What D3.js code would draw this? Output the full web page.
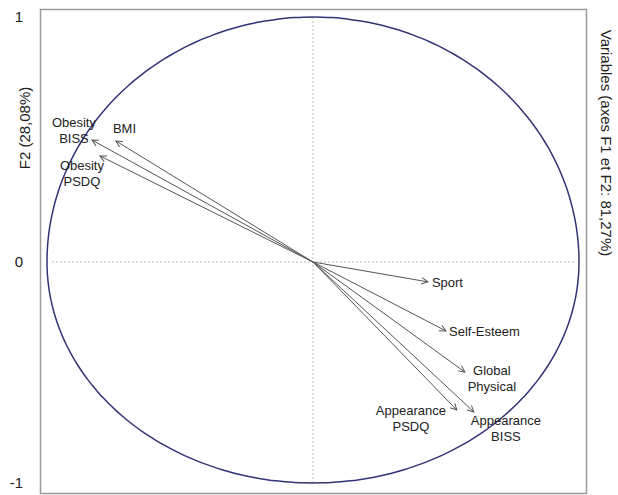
<!DOCTYPE html>
<html>
<head>
<meta charset="utf-8">
<script src="https://cdn.jsdelivr.net/npm/d3@7"></script>
<style>
  body { margin: 0; background: #fff; }
  text { font-family: "Liberation Sans", Arial, sans-serif; fill: #222; }
</style>
</head>
<body>
<div id="chart"></div>
<script>
// variable loadings on F1 / F2
var variables = ["Obesity BISS", "BMI", "Obesity PSDQ", "Sport", "Self-Esteem", "Global Physical", "Appearance PSDQ", "Appearance BISS"];
var f1 = [-0.831, -0.741, -0.801, 0.432, 0.500, 0.571, 0.541, 0.605];
var f2 = [0.498, 0.494, 0.433, -0.090, -0.312, -0.498, -0.670, -0.679];
var labelLines = [["Obesity", "BISS"], ["BMI"], ["Obesity", "PSDQ"], ["Sport"], ["Self-Esteem"], ["Global", "Physical"], ["Appearance", "PSDQ"], ["Appearance", "BISS"]];
var yTicks = [1, 0, -1];

// label placement relative to arrow tip (layout only)
var labelPos = [
  {dx: -18, dy: -13, anchor: "middle"},
  {dx: -3, dy: -8, anchor: "start"},
  {dx: -18, dy: 14, anchor: "middle"},
  {dx: 4, dy: 5, anchor: "start"},
  {dx: 3, dy: 5, anchor: "start"},
  {dx: 27, dy: 3, anchor: "middle"},
  {dx: -46, dy: 5, anchor: "middle"},
  {dx: 32, dy: 13, anchor: "middle"}
];

var width = 618, height = 495;

var svg = d3.select("#chart")
    .append("svg")
    .attr("width", width)
    .attr("height", height);

var x = d3.scaleLinear().domain([-1, 1]).range([47, 579]);
// the picture's vertical axis is not symmetric round zero
var y = d3.scaleLinear().domain([-1, 0, 1]).range([483, 262, 17]);

// frame
svg.append("rect")
    .attr("x", 40.5)
    .attr("y", 9.5)
    .attr("width", 546)
    .attr("height", 484)
    .attr("fill", "none")
    .attr("stroke", "#9a9a9a")
    .attr("stroke-width", 1.5);

// zero lines
svg.append("line")
    .attr("x1", x(-1) + 5).attr("x2", x(1) - 5)
    .attr("y1", y(0)).attr("y2", y(0))
    .attr("stroke", "#bbb")
    .attr("stroke-dasharray", "2,2");
svg.append("line")
    .attr("x1", x(0)).attr("x2", x(0))
    .attr("y1", y(1)).attr("y2", y(-1))
    .attr("stroke", "#bbb")
    .attr("stroke-dasharray", "2,2");

// correlation circle
var angles = d3.range(0, 361, 2);
var circleLine = d3.line()
    .x(function(a) { return x(Math.cos(a * Math.PI / 180)); })
    .y(function(a) { return y(Math.sin(a * Math.PI / 180)); })
    .curve(d3.curveCatmullRom);
svg.append("path")
    .datum(angles)
    .attr("d", circleLine)
    .attr("fill", "none")
    .attr("stroke", "#333377")
    .attr("stroke-width", 1.5);

// arrow marker
svg.append("defs").append("marker")
    .attr("id", "head")
    .attr("viewBox", "0 0 10 10")
    .attr("refX", 9)
    .attr("refY", 5)
    .attr("markerWidth", 8)
    .attr("markerHeight", 8)
    .attr("markerUnits", "userSpaceOnUse")
    .attr("orient", "auto")
    .append("path")
    .attr("d", "M1,1 L9,5 L1,9")
    .attr("fill", "none")
    .attr("stroke", "#555")
    .attr("stroke-width", 1.2);

var data = variables.map(function(v, i) {
  return {name: v, f1: f1[i], f2: f2[i], lines: labelLines[i], pos: labelPos[i]};
});

svg.selectAll(".arrow")
    .data(data)
    .enter()
    .append("line")
    .attr("class", "arrow")
    .attr("x1", x(0))
    .attr("y1", y(0))
    .attr("x2", function(d) { return x(d.f1); })
    .attr("y2", function(d) { return y(d.f2); })
    .attr("stroke", "#555")
    .attr("stroke-width", 1)
    .attr("marker-end", "url(#head)");

var labels = svg.selectAll(".lab")
    .data(data)
    .enter()
    .append("text")
    .attr("class", "lab")
    .attr("font-size", 13)
    .attr("text-anchor", function(d) { return d.pos.anchor; })
    .attr("x", function(d) { return x(d.f1) + d.pos.dx; })
    .attr("y", function(d) { return y(d.f2) + d.pos.dy; });

labels.selectAll("tspan")
    .data(function(d) { return d.lines.map(function(t, k) { return {t: t, k: k, d: d}; }); })
    .enter()
    .append("tspan")
    .attr("x", function(e) { return x(e.d.f1) + e.d.pos.dx; })
    .attr("dy", function(e) { return e.k === 0 ? 0 : 16; })
    .text(function(e) { return e.t; });

// y tick labels
svg.selectAll(".tick")
    .data(yTicks)
    .enter()
    .append("text")
    .attr("class", "tick")
    .attr("x", 23)
    .attr("y", function(d) { return y(d) + 5; })
    .attr("text-anchor", "end")
    .attr("font-size", 15)
    .text(function(d) { return d; });

// axis titles
svg.append("text")
    .attr("transform", "translate(30,128) rotate(-90)")
    .attr("text-anchor", "middle")
    .attr("font-size", 15)
    .text("F2 (28,08%)");

svg.append("text")
    .attr("transform", "translate(601,143) rotate(90)")
    .attr("text-anchor", "middle")
    .attr("font-size", 15)
    .text("Variables (axes F1 et F2: 81,27%)");
</script>
</body>
</html>
